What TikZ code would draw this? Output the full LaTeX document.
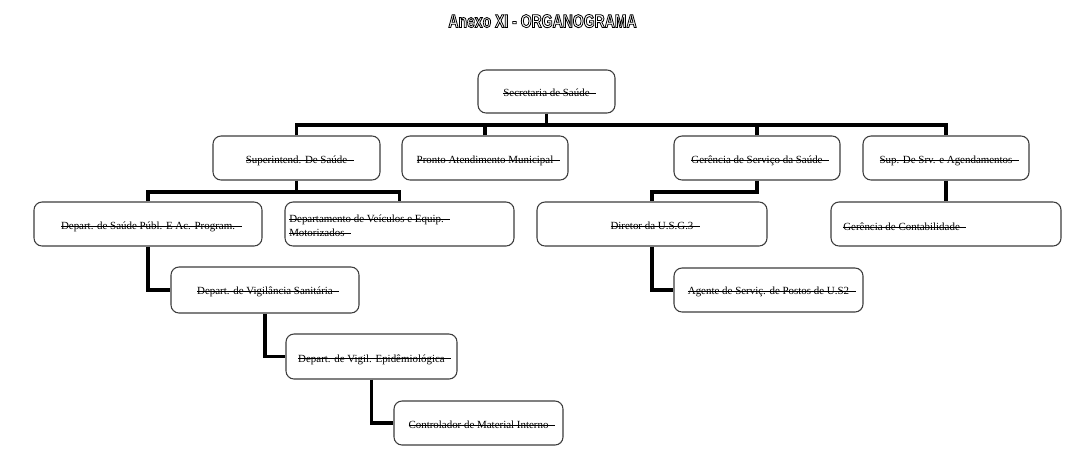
\documentclass[tikz,border=0pt]{standalone}
\usepackage{fontspec}
\setmainfont{Liberation Serif}
\newfontfamily\titlefont[FakeStretch=0.75]{Liberation Sans}
\usetikzlibrary{fit}
\newlength\strklen
\newcommand\strk[1]{\settowidth\strklen{#1}\addtolength\strklen{0.6em}\rlap{\rule[0.26em]{\strklen}{0.6pt}}#1}
\newcommand\outlinetext[1]{\special{pdf:literal direct 2 Tr 0.6 w 0 G}#1\special{pdf:literal direct 0 Tr}}
\definecolor{boxline}{HTML}{3C3C3C}
\tikzset{
 orgbox/.style={draw=boxline, line width=0.8pt, rounded corners=6pt, inner sep=0pt, fill=white},
 conn/.style={line width=2.6pt, draw=black},
 lbl/.style={inner sep=0pt, anchor=base, yshift=-4.2pt, font=\fontsize{8.2}{10.5}\selectfont},
 lbll/.style={inner sep=0pt, anchor=base west, font=\fontsize{8.2}{10.5}\selectfont},
 ttl/.style={inner sep=0pt, anchor=base, font=\titlefont\bfseries\fontsize{14}{16}\selectfont},
}
\begin{document}
\begin{tikzpicture}[x=0.75pt,y=-0.75pt]
\useasboundingbox[fill=white] (0,0) rectangle (1081,461);
% title (outlined)
\node[ttl, text=white] (title) at (542.5,27.5) {\outlinetext{Anexo XI - ORGANOGRAMA}};
% boxes
\node[orgbox, fit={(478,70) (615,113)}] (sec) {};
\node[orgbox, fit={(213,136) (380,180)}] (sup) {};
\node[orgbox, fit={(402,136) (568,180)}] (pa) {};
\node[orgbox, fit={(674,136) (840,180)}] (ger) {};
\node[orgbox, fit={(863,136) (1029,180)}] (srv) {};
\node[orgbox, fit={(34,202) (262,246)}] (ds) {};
\node[orgbox, fit={(285,202) (514,246)}] (dv) {};
\node[orgbox, fit={(537,202) (767,246)}] (dir) {};
\node[orgbox, fit={(831,202) (1061,246)}] (gc) {};
\node[orgbox, fit={(171,267) (359,313)}] (vig) {};
\node[orgbox, fit={(674,268) (863,312)}] (ag) {};
\node[orgbox, fit={(286,334) (457,379)}] (epi) {};
\node[orgbox, fit={(394,401) (563,445)}] (ctl) {};
% connectors
\coordinate (bus1) at (547,125);
\coordinate (bus2) at (296,192);
\draw[conn] (sec.south) -- (sec.south |- bus1);
\draw[conn] (sup.north) |- (bus1) -| (srv.north);
\draw[conn] (pa.north) -- (pa.north |- bus1);
\draw[conn] (ger.north) -- (ger.north |- bus1);
\draw[conn] (sup.south) -- (sup.south |- bus2);
\draw[conn] (ds.north) |- (bus2) -| (dv.north);
\draw[conn] (ger.south) |- (dir.north |- bus2) -- (dir.north);
\draw[conn] (srv.south) -- (gc.north);
\draw[conn] (ds.south) |- (vig.west);
\draw[conn] (dir.south) |- (ag.west);
\draw[conn] (vig.south) |- (epi.west);
\draw[conn] (epi.south) |- (ctl.west);
% labels
\node[lbl, yshift=0.6pt] (t-sec) at (sec) {\strk{Secretaria de Saúde}};
\node[lbl] (t-sup) at (sup) {\strk{Superintend. De Saúde}};
\node[lbl] (t-pa) at (pa) {\strk{Pronto Atendimento Municipal}};
\node[lbl] (t-ger) at (ger) {\strk{Gerência de Serviço da Saúde}};
\node[lbl] (t-srv) at (srv) {\strk{Sup. De Srv. e Agendamentos}};
\node[lbl] (t-ds) at (ds) {\strk{Depart. de Saúde Públ. E Ac. Program.}};
\node[inner sep=0pt, anchor=north west, align=left, font=\fontsize{8.2}{10.5}\selectfont] (t-dv) at (289,214.5) {\strk{Departamento de Veículos e Equip.}\\\strk{Motorizados}};
\node[lbl] (t-dir) at (dir) {\strk{Diretor da U.S.G.3}};
\node[lbll] (t-gc) at (843,230.5) {\strk{Gerência de Contabilidade}};
\node[lbl, yshift=0.6pt] (t-vig) at (vig) {\strk{Depart. de Vigilância Sanitária}};
\node[lbl, yshift=0.6pt] (t-ag) at (ag) {\strk{Agente de Serviç. de Postos de U.S2}};
\node[lbl] (t-epi) at (epi) {\strk{Depart. de Vigil. Epidêmiológica}};
\node[lbl] (t-ctl) at (ctl) {\strk{Controlador de Material Interno}};
\end{tikzpicture}
\end{document}
